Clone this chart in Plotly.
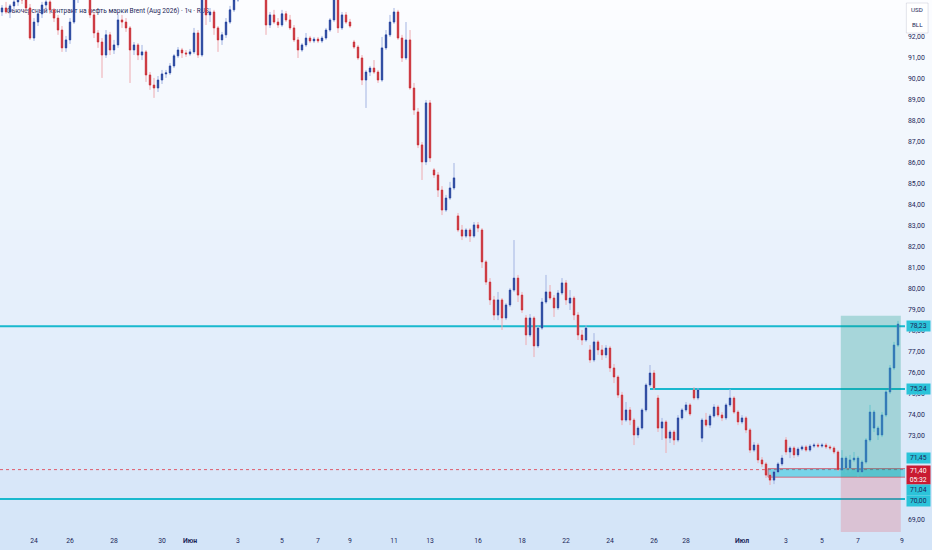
import numpy as np
import plotly.graph_objects as go

title = "Фьючерсный контракт на нефть марки Brent (Aug 2026) · 1ч · RUS"

# hourly-ish bars (price, USD/bbl)
opens = [
    93.19, 93.38, 93.19, 93.48, 93.67, 93.90, 93.76, 93.38, 91.95, 92.71,
    93.10, 93.52, 93.67, 93.29, 92.90, 92.33, 91.48, 91.86, 92.71, 94.43,
    94.71, 94.95, 94.62, 93.05, 92.19, 91.76, 91.14, 92.10, 91.38, 91.62,
    92.81, 92.71, 92.43, 91.38, 91.62, 91.14, 91.29, 90.19, 89.71, 89.57,
    89.95, 90.24, 90.29, 90.62, 91.10, 91.38, 91.24, 91.19, 91.29, 92.19,
    91.14, 93.90, 93.05, 93.19, 92.43, 91.86, 92.10, 92.71, 93.29, 93.76,
    94.33, 94.81, 94.62, 95.10, 94.71, 94.95, 94.14, 92.57, 93.05, 92.71,
    92.57, 93.10, 92.81, 92.43, 91.86, 91.38, 91.62, 91.95, 91.81, 91.90,
    91.81, 91.95, 92.33, 92.81, 94.24, 92.43, 93.05, 92.71, 91.76, 91.52,
    91.00, 89.95, 90.33, 90.52, 90.33, 89.95, 91.48, 92.10, 92.71, 93.19,
    91.95, 91.00, 91.86, 89.57, 88.43, 86.86, 86.05, 88.86, 85.67, 85.43,
    84.71, 83.76, 84.33, 84.81, 83.48, 82.81, 82.52, 82.81, 82.52, 83.05,
    82.81, 81.29, 80.33, 79.48, 78.76, 79.48, 78.62, 79.24, 79.95, 80.52,
    79.71, 78.62, 77.81, 78.62, 77.29, 78.14, 79.38, 79.86, 79.57, 79.10,
    79.81, 80.29, 79.33, 79.57, 78.76, 77.81, 77.57, 77.10, 76.62, 77.48,
    77.10, 76.86, 77.19, 76.24, 75.81, 74.95, 73.76, 74.24, 73.76, 73.05,
    73.38, 74.24, 75.43, 76.00, 74.81, 73.38, 73.67, 72.90, 73.19, 72.81,
    73.86, 74.24, 74.48, 75.19, 74.81, 72.90, 73.76, 73.52, 73.95, 74.38,
    74.00, 73.86, 74.48, 74.81, 74.14, 73.67, 73.86, 73.29, 72.33, 72.57,
    71.86, 71.67, 71.14, 70.90, 71.29, 71.67, 72.81, 72.24, 72.43, 72.10,
    72.38, 72.48, 72.33, 72.52, 72.57, 72.52, 72.57, 72.48, 72.43, 72.24,
]
highs = [
    93.52, 93.67, 93.57, 93.86, 94.05, 94.14, 94.00, 93.57, 92.90, 93.29,
    93.67, 94.05, 93.86, 93.38, 93.05, 92.52, 92.05, 92.90, 94.62, 94.90,
    95.19, 95.19, 94.81, 93.19, 92.33, 91.95, 92.33, 92.24, 91.86, 93.05,
    93.05, 92.90, 92.52, 91.76, 91.71, 91.62, 91.38, 90.33, 90.05, 90.14,
    90.43, 90.43, 90.76, 91.19, 91.52, 91.48, 91.38, 91.43, 92.43, 92.33,
    94.14, 94.05, 93.38, 93.29, 92.52, 92.24, 92.90, 93.48, 94.05, 94.48,
    95.10, 95.00, 95.29, 95.19, 95.10, 95.10, 94.33, 93.19, 93.29, 92.90,
    93.29, 93.24, 93.05, 92.57, 92.00, 91.71, 92.19, 92.05, 92.00, 92.00,
    92.05, 92.43, 92.90, 94.48, 94.43, 93.19, 93.19, 92.86, 91.86, 91.62,
    91.14, 90.43, 90.62, 90.90, 90.43, 92.00, 92.33, 93.05, 93.38, 93.29,
    92.10, 92.71, 92.33, 89.81, 88.62, 87.00, 89.00, 89.00, 85.76, 85.57,
    84.90, 84.48, 85.10, 86.00, 83.62, 83.05, 82.90, 82.90, 83.19, 83.19,
    82.90, 81.38, 80.52, 79.67, 79.86, 79.57, 79.33, 80.05, 82.33, 80.67,
    79.86, 78.76, 78.81, 78.71, 78.24, 79.57, 80.67, 80.19, 79.71, 79.95,
    80.52, 80.43, 79.95, 79.67, 78.90, 78.05, 78.29, 77.33, 77.90, 77.57,
    77.33, 77.33, 77.29, 76.43, 75.90, 75.10, 74.62, 74.38, 73.86, 73.48,
    74.33, 75.52, 76.38, 76.14, 74.95, 73.86, 73.76, 73.29, 73.29, 74.00,
    74.33, 74.62, 74.57, 75.33, 75.29, 73.86, 74.10, 74.05, 74.52, 74.48,
    74.14, 74.57, 75.24, 74.90, 74.24, 74.00, 73.95, 73.38, 72.71, 72.67,
    72.00, 71.76, 71.29, 71.38, 71.76, 72.10, 72.95, 72.52, 72.52, 72.48,
    72.57, 72.57, 72.62, 72.67, 72.67, 72.67, 72.67, 72.57, 72.52, 72.33,
]
lows = [
    93.00, 93.10, 92.90, 93.29, 93.48, 93.57, 93.19, 91.86, 91.81, 92.52,
    92.90, 93.29, 93.10, 92.71, 92.10, 91.29, 91.29, 91.67, 92.62, 93.62,
    94.33, 94.24, 92.90, 91.95, 91.48, 90.05, 91.00, 91.14, 91.19, 91.48,
    92.43, 92.24, 89.81, 91.14, 90.90, 90.90, 89.86, 89.48, 89.10, 89.38,
    89.76, 90.05, 90.19, 90.52, 91.00, 91.00, 91.05, 91.10, 91.19, 91.00,
    91.05, 92.57, 92.71, 92.10, 91.29, 91.62, 91.95, 92.62, 93.19, 93.67,
    94.14, 94.24, 94.43, 94.33, 94.24, 93.95, 92.10, 92.43, 92.62, 92.43,
    92.48, 92.71, 92.33, 91.76, 91.00, 91.29, 91.52, 91.71, 91.71, 91.71,
    91.71, 91.86, 92.24, 92.71, 92.19, 92.33, 92.62, 92.43, 91.43, 90.90,
    89.71, 88.62, 90.14, 90.24, 89.81, 89.86, 91.38, 92.00, 92.62, 91.86,
    90.81, 90.90, 89.48, 88.29, 86.71, 85.19, 85.90, 86.05, 85.29, 84.38,
    83.52, 83.67, 84.24, 84.71, 82.71, 82.33, 82.43, 82.24, 82.43, 82.71,
    81.00, 80.19, 79.24, 78.52, 78.52, 78.05, 78.52, 79.14, 79.86, 79.38,
    78.86, 77.33, 77.71, 76.76, 77.19, 78.05, 79.29, 79.48, 78.67, 79.00,
    79.71, 79.24, 79.00, 78.52, 77.57, 77.33, 77.48, 76.48, 76.52, 76.86,
    76.62, 76.71, 76.05, 75.52, 74.81, 73.52, 73.67, 73.52, 72.57, 72.90,
    73.29, 74.14, 75.33, 75.19, 73.19, 72.81, 72.19, 72.67, 72.57, 72.71,
    73.76, 74.14, 73.95, 74.71, 74.71, 72.71, 73.43, 73.38, 73.86, 73.90,
    73.71, 73.76, 74.38, 74.05, 73.52, 73.57, 73.14, 72.19, 72.24, 71.71,
    71.52, 71.00, 70.67, 70.71, 71.19, 71.57, 72.10, 71.95, 71.95, 72.00,
    72.29, 72.24, 72.24, 72.43, 72.43, 72.43, 72.38, 72.33, 72.14, 71.33,
]
closes = [
    93.38, 93.19, 93.48, 93.67, 93.90, 93.76, 93.38, 91.95, 92.71, 93.10,
    93.52, 93.67, 93.29, 92.90, 92.33, 91.48, 91.86, 92.71, 94.43, 94.71,
    94.95, 94.62, 93.05, 92.19, 91.76, 91.14, 92.10, 91.38, 91.62, 92.81,
    92.71, 92.43, 91.38, 91.62, 91.14, 91.29, 90.19, 89.71, 89.57, 89.95,
    90.24, 90.29, 90.62, 91.10, 91.38, 91.24, 91.19, 91.29, 92.19, 91.14,
    93.90, 93.05, 93.19, 92.43, 91.86, 92.10, 92.71, 93.29, 93.76, 94.33,
    94.81, 94.62, 95.10, 94.71, 94.95, 94.14, 92.57, 93.05, 92.71, 92.57,
    93.10, 92.81, 92.43, 91.86, 91.38, 91.62, 91.95, 91.81, 91.90, 91.81,
    91.95, 92.33, 92.81, 94.24, 92.43, 93.05, 92.71, 92.52, 91.52, 91.00,
    89.95, 90.33, 90.52, 90.33, 89.95, 91.48, 92.10, 92.71, 93.19, 91.95,
    91.00, 91.86, 89.57, 88.52, 86.86, 86.05, 88.86, 86.24, 85.43, 84.71,
    83.76, 84.33, 84.81, 85.29, 82.81, 82.52, 82.81, 82.52, 83.05, 82.90,
    81.29, 80.33, 79.48, 78.76, 79.48, 78.62, 79.24, 79.95, 80.52, 79.71,
    79.00, 77.81, 78.62, 77.29, 78.14, 79.38, 79.86, 79.57, 79.10, 79.81,
    80.29, 79.48, 79.57, 78.76, 77.81, 77.57, 78.14, 76.62, 77.48, 77.10,
    76.86, 77.19, 76.24, 75.81, 74.95, 73.76, 74.24, 73.76, 73.05, 73.38,
    74.24, 75.43, 76.00, 75.29, 73.38, 73.67, 72.90, 73.19, 72.81, 73.86,
    74.24, 74.48, 74.05, 74.81, 75.19, 73.76, 73.52, 73.95, 74.38, 74.00,
    73.86, 74.48, 74.81, 74.14, 73.67, 73.86, 73.29, 72.33, 72.57, 71.86,
    71.67, 71.14, 70.90, 71.29, 71.67, 71.95, 72.24, 72.43, 72.10, 72.38,
    72.48, 72.33, 72.52, 72.57, 72.52, 72.57, 72.48, 72.43, 72.24, 71.40,
]

# drawn "bars pattern" projection inside the long-position box
proj_open = [71.38, 71.95, 71.48, 71.86, 71.95, 71.29, 71.76, 72.81, 74.14, 73.38, 73.05, 74.00, 75.10, 76.24, 77.33]
proj_high = [72.33, 72.05, 72.10, 72.24, 72.05, 71.86, 72.90, 74.48, 74.24, 73.48, 74.14, 75.19, 76.38, 77.48, 78.48]
proj_low = [71.29, 71.24, 71.29, 71.76, 71.05, 71.10, 71.67, 72.71, 73.19, 72.81, 72.95, 73.90, 75.00, 76.14, 77.24]
proj_close = [71.95, 71.48, 71.86, 71.95, 71.29, 71.76, 72.81, 74.14, 73.38, 73.05, 74.00, 75.10, 76.24, 77.33, 78.33]

day_bars = [8, 17, 28, 40, 47, 59, 70, 79, 87, 98, 107, 119, 130, 141, 152, 163, 171, 185, 196, 205, 214, 225]
day_labels = ["24", "26", "28", "30", "<b>Июн</b>", "3", "5", "7", "9", "11", "13",
              "16", "18", "22", "24", "26", "28", "<b>Июл</b>", "3", "5", "7", "9"]

# price scale: 70-72 sit behind the label boxes, 93 behind the currency box
price_ticks = [69, 73, 74, 75, 76, 77, 78, 79, 80, 81, 82, 83, 84, 85, 86, 87, 88, 89, 90, 91, 92]

levels = [78.23, 75.24, 70.00]
ray_start_bar = 162
zone = [71.04, 71.45]
zone_start_bar = 191.5
last_price = 71.40
countdown = "05:32"
entry, target, stop = 71.04, 78.73, 68.40
pos_bars = [209.7, 224.7]

NAVY = "#1b2658"
CYAN = "#19b8ce"
FONT = "Roboto, sans-serif"

x = np.arange(len(opens))
xp = np.arange(len(opens), len(opens) + len(proj_open))

fig = go.Figure()


def add_candles(xs, o, h, l, c, wick_up, wick_dn, body_up, body_dn):
    # pale full-range bars give the light wicks, solid body-only bars go on top
    fig.add_trace(go.Candlestick(
        x=xs, open=o, high=h, low=l, close=c,
        increasing=dict(line=dict(color=wick_up, width=1), fillcolor=wick_up),
        decreasing=dict(line=dict(color=wick_dn, width=1), fillcolor=wick_dn),
        hoverinfo="skip", showlegend=False,
    ))
    fig.add_trace(go.Candlestick(
        x=xs, open=o, high=np.maximum(o, c), low=np.minimum(o, c), close=c,
        increasing=dict(line=dict(color=body_up, width=0.6), fillcolor=body_up),
        decreasing=dict(line=dict(color=body_dn, width=0.6), fillcolor=body_dn),
        hoverinfo="skip", showlegend=False,
    ))


add_candles(x, np.array(opens), highs, lows, np.array(closes),
            "#a3b4e2", "#eeaab0", "#1f3c98", "#c72830")
add_candles(xp, np.array(proj_open), proj_high, proj_low, np.array(proj_close),
            "#8ad6e8", "#8ad6e8", "#3a5ec6", "#3a5ec6")

shapes = []

# vertical background gradient, white to light blue
top_rgb = np.array([252, 253, 255])
bot_rgb = np.array([211, 228, 248])
n = 55
y_bot = -18 / 532
step = (1 - y_bot) / n
for k in range(n):
    r, g, b = np.round(top_rgb + (bot_rgb - top_rgb) * (k + 0.5) / n).astype(int)
    shapes.append(dict(type="rect", xref="paper", yref="paper",
                       x0=-0.01, x1=1.04, y0=1 - (k + 1) * step - 0.001, y1=1 - k * step,
                       fillcolor=f"rgb({r},{g},{b})", line=dict(width=0), layer="below"))

# symbol title, under the candles
shapes.append(dict(type="rect", xref="paper", yref="paper",
                   x0=0.004, x1=0.6, y0=1 - 15 / 532, y1=1 - 5 / 532,
                   line=dict(width=0), fillcolor="rgba(0,0,0,0)", layer="below",
                   label=dict(text=title, textposition="middle left", padding=0,
                              font=dict(size=6.6, color=NAVY, family=FONT))))

# rectangle zone
shapes.append(dict(type="rect", xref="x", yref="y", x0=zone_start_bar, x1=226, y0=zone[0], y1=zone[1],
                   fillcolor="rgba(0,188,212,0.45)", line=dict(color="rgba(226,60,80,0.7)", width=1),
                   layer="below"))
# horizontal levels
shapes.append(dict(type="line", xref="paper", yref="y", x0=0, x1=1, y0=levels[0], y1=levels[0],
                   line=dict(color=CYAN, width=2), layer="below"))
shapes.append(dict(type="line", xref="x", yref="y", x0=ray_start_bar, x1=226, y0=levels[1], y1=levels[1],
                   line=dict(color=CYAN, width=2), layer="below"))
shapes.append(dict(type="line", xref="paper", yref="y", x0=0, x1=1, y0=levels[2], y1=levels[2],
                   line=dict(color=CYAN, width=2), layer="below"))
# last price line
shapes.append(dict(type="line", xref="paper", yref="y", x0=0, x1=1, y0=last_price, y1=last_price,
                   line=dict(color="rgba(225,45,60,0.75)", width=1, dash="dot"), layer="below"))
# long position tool
shapes.append(dict(type="rect", xref="x", yref="y", x0=pos_bars[0], x1=pos_bars[1], y0=entry, y1=target,
                   fillcolor="rgba(8,153,129,0.27)", line=dict(width=0), layer="above"))
shapes.append(dict(type="rect", xref="x", yref="y", x0=pos_bars[0], x1=pos_bars[1], y0=stop, y1=entry,
                   fillcolor="rgba(242,54,69,0.2)", line=dict(width=0), layer="above"))
# currency box
shapes.append(dict(type="rect", xref="paper", yref="paper", x0=1.0015, x1=1.0255,
                   y0=1 - 33 / 532, y1=1 - 3 / 532,
                   fillcolor="rgba(255,255,255,0.9)", line=dict(color="rgba(30,40,90,0.12)", width=1)))

annotations = []


def price_box(val, text, bg, color, yshift=0):
    annotations.append(dict(xref="paper", yref="y", x=1.0, y=val, xanchor="left", xshift=1,
                            yshift=yshift, text=text, showarrow=False, align="center",
                            bgcolor=bg, borderpad=0.8, width=21,
                            font=dict(size=6.8, color=color, family=FONT)))


price_box(levels[0], "78,23", "#2bc3d9", NAVY)
price_box(levels[1], "75,24", "#2bc3d9", NAVY)
price_box(zone[1], "71,45", "#2bc3d9", NAVY, yshift=10.5)
price_box(last_price, f"71,40<br>{countdown}", "#c91b33", "white", yshift=-5.5)
price_box(zone[0], "71,04", "#2bc3d9", NAVY, yshift=-13)
price_box(levels[2], "70,00", "#2bc3d9", NAVY, yshift=-1.5)

for txt, py in [("USD", 10), ("BLL", 25)]:
    annotations.append(dict(xref="paper", yref="paper", x=1.0135, y=1 - py / 532,
                            xanchor="center", yanchor="middle", text=txt, showarrow=False,
                            font=dict(size=6.2, color=NAVY, family=FONT)))

fig.update_layout(
    width=932, height=550,
    margin=dict(l=0, r=27, t=0, b=18),
    paper_bgcolor="#e6eff9",
    plot_bgcolor="rgba(0,0,0,0)",
    separators=",.",
    boxgap=0.5,
    showlegend=False,
    shapes=shapes,
    annotations=annotations,
    xaxis=dict(
        range=[-0.5, 225.75], tickvals=day_bars, ticktext=day_labels,
        showgrid=False, zeroline=False, showline=False, ticks="",
        tickfont=dict(size=6.8, color=NAVY, family=FONT), ticklabelstandoff=3,
        rangeslider=dict(visible=False), fixedrange=True, automargin=False,
    ),
    yaxis=dict(
        side="right", range=[68.43, 93.76], tickvals=price_ticks, tickformat=".2f",
        showgrid=False, zeroline=False, showline=False, ticks="",
        tickfont=dict(size=6.9, color=NAVY, family=FONT), ticklabelstandoff=2,
        fixedrange=True, automargin=False,
    ),
)

# the page's default 8px body margin would shift the figure off the 932x550 frame
fig.write_html("out.html", config={"displayModeBar": False},
               post_script="document.body.style.margin='0px';")
